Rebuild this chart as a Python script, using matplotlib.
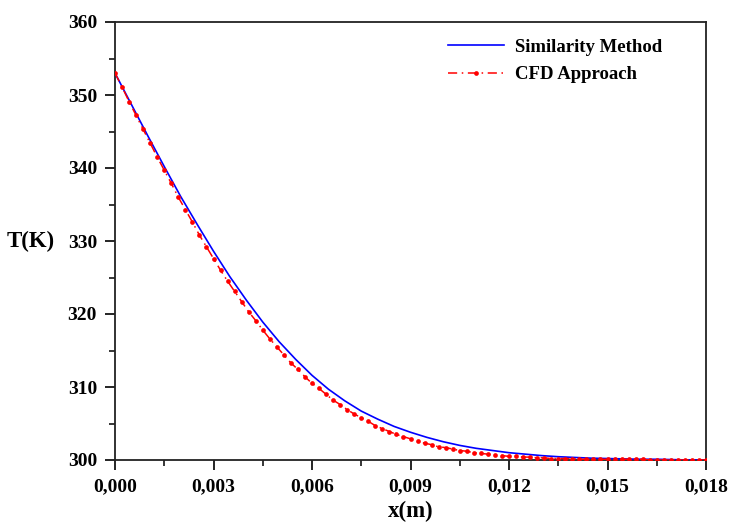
import numpy as np
import matplotlib
matplotlib.use("Agg")
import matplotlib.pyplot as plt
from matplotlib.ticker import MultipleLocator, FuncFormatter

# Similarity method (x step 0.0005 m)
x_sim = np.linspace(0.0, 0.018, 37)
T_sim = [353.0, 348.7, 344.4, 340.2, 336.1, 332.3, 328.6, 325.1, 321.9, 318.9,
         316.2, 313.8, 311.6, 309.7, 308.1, 306.7, 305.6, 304.6, 303.8, 303.1,
         302.5, 302.0, 301.6, 301.3, 301.0, 300.8, 300.6, 300.45, 300.35, 300.25,
         300.2, 300.15, 300.1, 300.1, 300.05, 300.0, 300.0]

# CFD approach (85 nodes)
x_cfd = np.linspace(0.0, 0.018, 85)
T_cfd = [353.0, 351.1, 349.1, 347.2, 345.3, 343.4, 341.5, 339.7, 337.9, 336.0,
         334.3, 332.6, 330.8, 329.2, 327.6, 326.0, 324.5, 323.1, 321.7, 320.3,
         319.1, 317.8, 316.6, 315.5, 314.4, 313.3, 312.4, 311.4, 310.5, 309.8,
         309.0, 308.2, 307.6, 306.9, 306.3, 305.8, 305.3, 304.7, 304.3, 303.9,
         303.5, 303.2, 302.9, 302.6, 302.3, 302.1, 301.8, 301.7, 301.5, 301.3,
         301.2, 301.0, 300.9, 300.8, 300.7, 300.6, 300.5, 300.5, 300.4, 300.4,
         300.3, 300.3, 300.2, 300.2, 300.2, 300.2, 300.1, 300.1, 300.1, 300.1,
         300.1, 300.1, 300.1, 300.1, 300.1, 300.1, 300.0, 300.0, 300.0, 300.0,
         300.0, 300.0, 300.0, 300.0, 300.0]

x_ticks = [0.0, 0.003, 0.006, 0.009, 0.012, 0.015, 0.018]
y_ticks = [300, 310, 320, 330, 340, 350, 360]

plt.rcParams['font.family'] = ['Liberation Serif', 'DejaVu Serif']
plt.rcParams['font.weight'] = 'bold'

fig = plt.figure(figsize=(7.34, 5.23), dpi=100)
ax = fig.add_axes([115/734, 1-460/523, 591/734, 438/523])

ax.plot(x_sim, T_sim, color='#0000ff', lw=1.2, label='Similarity Method', zorder=3)
ax.plot(x_cfd, T_cfd, color='#ff0000', lw=1.1, ls=(0, (6, 3, 1, 3)), marker='o',
        ms=3.4, markeredgewidth=0, label='CFD Approach', zorder=4)

ax.set_xlim(0, 0.018)
ax.set_ylim(300, 360)
ax.set_xticks(x_ticks)
ax.set_yticks(y_ticks)
ax.xaxis.set_minor_locator(MultipleLocator(0.0015))
ax.yaxis.set_minor_locator(MultipleLocator(5))
ax.xaxis.set_major_formatter(FuncFormatter(lambda v, p: f"{v:.3f}".replace('.', ',')))
ax.yaxis.set_major_formatter(FuncFormatter(lambda v, p: f"{v:.0f}"))

ax.tick_params(which='major', direction='out', length=7, width=1.2, labelsize=14, pad=6)
ax.tick_params(which='minor', direction='out', length=4, width=1.1)
ax.tick_params(top=False, right=False, which='both')
for lab in ax.get_xticklabels() + ax.get_yticklabels():
    lab.set_fontweight('bold')
for s in ax.spines.values():
    s.set_linewidth(1.3)
    s.set_color('#222222')

ax.set_xlabel('x(m)', fontsize=16.5, fontweight='bold', labelpad=4)
ax.set_ylabel('T(K)', fontsize=16.5, fontweight='bold', rotation=0, va='center', ha='center')
ax.yaxis.set_label_coords(-0.142, 0.5)

leg = ax.legend(loc='upper right', bbox_to_anchor=(0.955, 1.0), frameon=False,
                handlelength=3.0, handletextpad=0.6, labelspacing=0.55,
                prop={'weight': 'bold', 'size': 13.5})

fig.savefig('out.png', dpi=100)
